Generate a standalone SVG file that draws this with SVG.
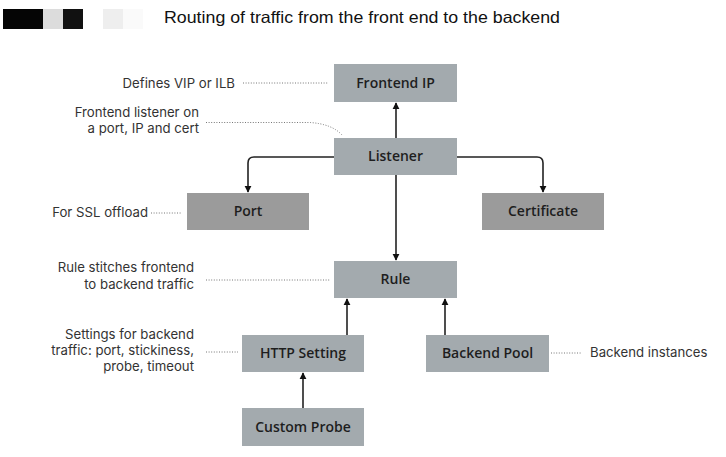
<svg xmlns="http://www.w3.org/2000/svg" width="726" height="457" viewBox="0 0 726 457">
<defs>
<marker id="ah" viewBox="0 0 10 10" refX="9" refY="5" markerWidth="4.5" markerHeight="4.5" orient="auto">
<path d="M0,0 L10,5 L0,10 z" fill="#111"/>
</marker>
<style>
.box{fill:#a3aaae}
.dark{fill:#9b9b9b}
.bl{font-family:"Open Sans","Noto Sans",sans-serif;font-size:14px;font-weight:600;fill:#1e1e1e;text-anchor:middle}
.note{font-family:Inter,"Open Sans",sans-serif;font-size:13.2px;fill:#333;text-anchor:end}
.conn{fill:none;stroke:#222;stroke-width:1.6;marker-end:url(#ah)}
.dot{fill:none;stroke:#777;stroke-width:1;stroke-dasharray:1 1.6}
</style>
</defs>
<rect width="726" height="457" fill="#fff"/>
<g id="redaction">
<rect x="3" y="9" width="40" height="20" fill="#050505"/>
<rect x="43" y="9" width="20" height="20" fill="#dcdcdc"/>
<rect x="63" y="9" width="20" height="20" fill="#111"/>
<rect x="103" y="9" width="20" height="20" fill="#eeeeee"/>
<rect x="123" y="9" width="20" height="20" fill="#fafafa"/>
</g>
<text x="164" y="23" font-family="Liberation Sans, Arial, sans-serif" font-size="16.5" textLength="396" lengthAdjust="spacingAndGlyphs" fill="#111">Routing of traffic from the front end to the backend</text>

<g id="connectors">
<path class="conn" d="M396,138 V103"/>
<path class="conn" d="M334,157 H254 Q248,157 248,163 V192"/>
<path class="conn" d="M457,157 H537 Q543,157 543,163 V192"/>
<path class="conn" d="M396,175 V260"/>
<path class="conn" d="M347,335 V299"/>
<path class="conn" d="M445,335 V299"/>
<path class="conn" d="M303,408 V373"/>
</g>

<g id="annotations">
<path class="dot" d="M243,83 H328"/>
<path class="dot" d="M206,122.5 H310 Q332,124 342,135"/>
<path class="dot" d="M151,213 H182"/>
<path class="dot" d="M206,280 H330"/>
<path class="dot" d="M206,352 H238"/>
<path class="dot" d="M551,353 H582"/>
<text class="note" x="235" y="88">Defines VIP or ILB</text>
<text class="note" x="199" y="117">Frontend listener on</text>
<text class="note" x="199" y="133">a port, IP and cert</text>
<text class="note" x="148" y="217">For SSL offload</text>
<text class="note" x="194" y="272">Rule stitches frontend</text>
<text class="note" x="194" y="289">to backend traffic</text>
<text class="note" x="194" y="339">Settings for backend</text>
<text class="note" x="194" y="355">traffic: port, stickiness,</text>
<text class="note" x="194" y="371">probe, timeout</text>
<text class="note" x="590" y="357" style="text-anchor:start">Backend instances</text>
</g>

<g id="frontend-ip"><rect class="box" x="334" y="64" width="123" height="38"/><text class="bl" x="395.5" y="88">Frontend IP</text></g>
<g id="listener"><rect class="box" x="334" y="138" width="123" height="37"/><text class="bl" x="395.5" y="161">Listener</text></g>
<g id="port"><rect class="dark" x="187" y="193" width="122" height="37"/><text class="bl" x="248" y="216">Port</text></g>
<g id="certificate"><rect class="dark" x="482" y="193" width="122" height="37"/><text class="bl" x="543" y="216">Certificate</text></g>
<g id="rule"><rect class="box" x="334" y="261" width="123" height="37"/><text class="bl" x="395.5" y="284">Rule</text></g>
<g id="http-setting"><rect class="box" x="242" y="335" width="122" height="37"/><text class="bl" x="303" y="358">HTTP Setting</text></g>
<g id="backend-pool"><rect class="box" x="426" y="335" width="123" height="37"/><text class="bl" x="487.5" y="358">Backend Pool</text></g>
<g id="custom-probe"><rect class="box" x="242" y="408" width="122" height="38"/><text class="bl" x="303" y="432">Custom Probe</text></g>
</svg>
